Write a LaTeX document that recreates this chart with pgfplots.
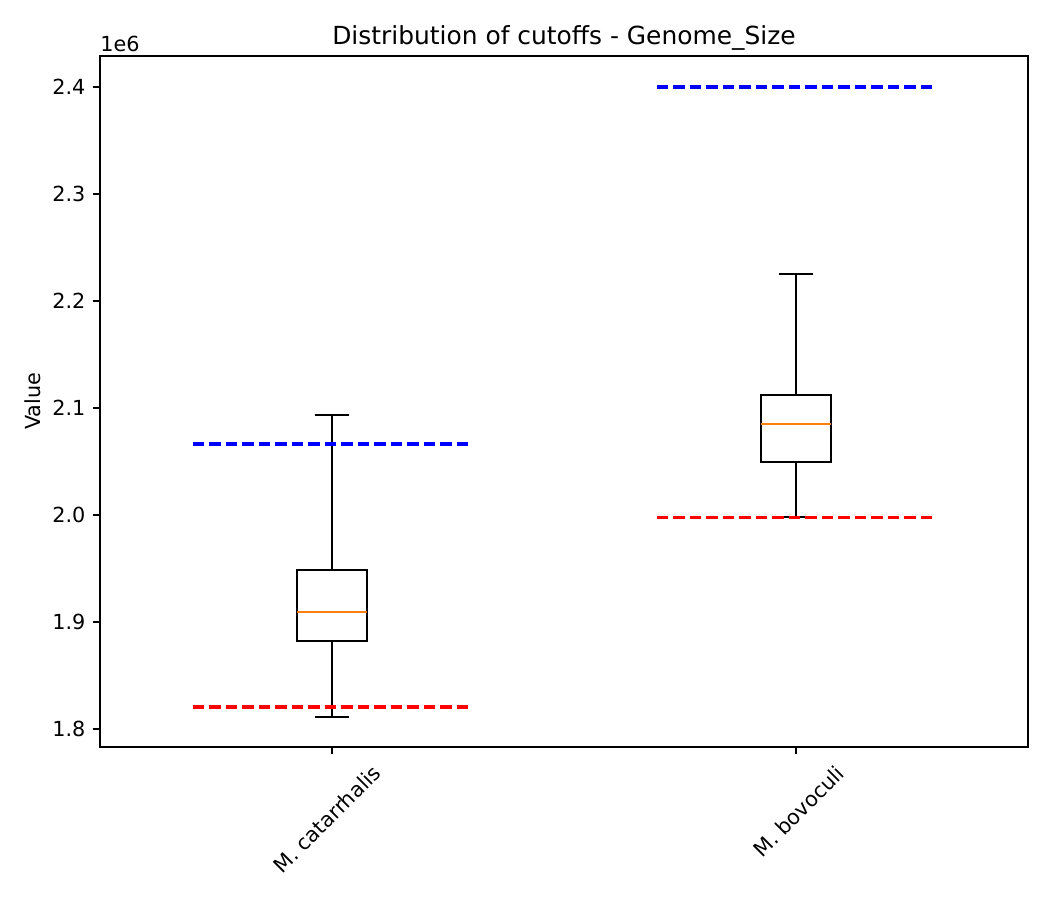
\documentclass[border=0pt]{standalone}
\usepackage{fontspec}
\setmainfont{DejaVu Sans}
\usepackage{pgfplots}
\pgfplotsset{compat=1.18}
\usepgfplotslibrary{statistics}
\definecolor{mplorange}{HTML}{FF7F0E}
\begin{document}
\begin{tikzpicture}
\useasboundingbox (-0.6667in,-1.02in) rectangle (6.3333in,4.98in);
\begin{axis}[
  at={(0,0)}, anchor=south west,
  scale only axis,
  width=6.1867in, height=4.6067in,
  xmin=0.5, xmax=2.5,
  ymin=1.7832, ymax=2.4290,
  xtick={1,2},
  xticklabels={M. catarrhalis, M. bovoculi},
  ytick={1.8,1.9,2.0,2.1,2.2,2.3,2.4},
  yticklabel style={/pgf/number format/fixed, /pgf/number format/fixed zerofill, /pgf/number format/precision=1, /pgf/number format/assume math mode=true, font=\fontsize{10}{12}\selectfont},
  xticklabel style={rotate=45, anchor=north east, xshift=13.5pt, yshift=-13.0pt, font=\fontsize{10}{12}\selectfont},
  scaled y ticks=false,
  tick align=outside,
  major tick length=3.5pt,
  every tick/.style={black, line width=0.8pt},
  axis line style={line width=0.8pt},
  xtick pos=bottom, ytick pos=left,
  title={Distribution of cutoffs - Genome\_Size},
  title style={font=\fontsize{12}{14}\selectfont, yshift=-7pt},
  ylabel={Value},
  ylabel style={font=\fontsize{10}{12}\selectfont, yshift=-1.5pt},
  boxplot/draw direction=y,
  boxplot/every median/.style={draw=mplorange, line width=1pt},
  clip=false,
]
\addplot[black, solid, line width=1pt, boxplot prepared={
  median=1.9093, upper quartile=1.9486, lower quartile=1.8822,
  upper whisker=2.0935, lower whisker=1.8112,
  draw position=1, box extend=0.15, whisker extend=0.075}] coordinates {};
\addplot[black, solid, line width=1pt, boxplot prepared={
  median=2.0850, upper quartile=2.1121, lower quartile=2.0495,
  upper whisker=2.2252, lower whisker=1.9980,
  draw position=2, box extend=0.15, whisker extend=0.075}] coordinates {};
\addplot[blue, line width=1.5pt, dash pattern=on 5.55pt off 2.4pt] coordinates {(0.7,2.0664) (1.3,2.0664)};
\addplot[red, line width=1.5pt, dash pattern=on 5.55pt off 2.4pt] coordinates {(0.7,1.8206) (1.3,1.8206)};
\addplot[blue, line width=1.5pt, dash pattern=on 5.55pt off 2.4pt] coordinates {(1.7,2.4000) (2.3,2.4000)};
\addplot[red, line width=1.5pt, dash pattern=on 5.55pt off 2.4pt] coordinates {(1.7,1.9980) (2.3,1.9980)};
\node[anchor=south west, inner sep=0pt, font=\fontsize{10}{12}\selectfont] at (rel axis cs:0,1) [yshift=2pt] {1e6};
\end{axis}
\end{tikzpicture}
\end{document}
